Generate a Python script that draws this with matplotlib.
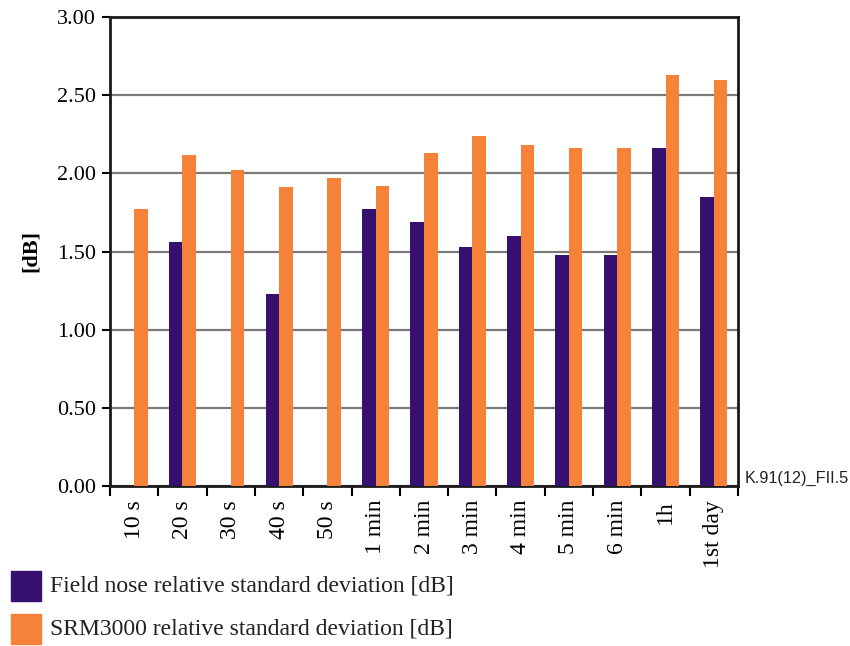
import matplotlib
matplotlib.use("Agg")
import matplotlib.pyplot as plt
import numpy as np
from matplotlib.patches import Rectangle

categories = ["10 s", "20 s", "30 s", "40 s", "50 s", "1 min", "2 min", "3 min",
              "4 min", "5 min", "6 min", "1h", "1st day"]
field_nose = [0, 1.56, 0, 1.23, 0, 1.77, 1.69, 1.53, 1.60, 1.48, 1.48, 2.16, 1.85]
srm3000 = [1.77, 2.12, 2.02, 1.91, 1.97, 1.92, 2.13, 2.24, 2.18, 2.16, 2.16, 2.63, 2.60]
yticks = [0.0, 0.5, 1.0, 1.5, 2.0, 2.5, 3.0]
series_names = ["Field nose relative standard deviation [dB]",
                "SRM3000 relative standard deviation [dB]"]
purple = "#35106e"
orange = "#f58238"

plt.rcParams['font.family'] = ['Liberation Serif', 'DejaVu Serif']

fig = plt.figure(figsize=(8.5, 6.46), dpi=100)
W, H = 850, 646
ax = fig.add_axes([110 / W, 1 - 486 / H, (738 - 110) / W, (486 - 17) / H])

x = np.arange(len(categories))
w = 0.28
ax.bar(x - w / 2, field_nose, width=w, color=purple, zorder=3)
ax.bar(x + w / 2, srm3000, width=w, color=orange, zorder=3)

ax.set_xlim(-0.5, len(categories) - 0.5)
ax.set_ylim(0, 3)
ax.set_yticks(yticks)
ax.set_yticklabels([f"{v:.2f}" for v in yticks], fontsize=16)
ax.yaxis.grid(True, color="#7a7a7a", lw=1.6, zorder=1)
ax.set_axisbelow(True)

ax.set_xticks(np.arange(len(categories) + 1) - 0.5)
ax.set_xticklabels([])
ax.set_xticks(x, minor=True)
ax.set_xticklabels(categories, minor=True, rotation=90, fontsize=17, va='top', ha='center')
ax.tick_params(axis='x', which='minor', length=0, pad=10)
ax.tick_params(axis='x', which='major', length=7, width=1.5, direction='out')
ax.tick_params(axis='y', length=6, width=1.5, direction='out', pad=4)

for s in ax.spines.values():
    s.set_linewidth(2)
    s.set_color("#1a1a1a")

ax.set_ylabel("[dB]", fontsize=16, fontweight='bold', labelpad=12)

fig.text(745 / W, 1 - 478 / H, "K.91(12)_FII.5", fontsize=11.7,
         family=['Liberation Sans', 'DejaVu Sans'], ha='left', va='center', color="#222222")

# legend
for i, (name, col) in enumerate(zip(series_names, [purple, orange])):
    y0 = 571 + i * 43
    fig.patches.append(Rectangle((11 / W, 1 - (y0 + 30) / H), 30 / W, 30 / H,
                                 transform=fig.transFigure, color=col))
    fig.text(50 / W, 1 - (y0 + 15) / H, name, fontsize=17, ha='left', va='center',
             color="#222222")

fig.savefig("out.png", dpi=100)
